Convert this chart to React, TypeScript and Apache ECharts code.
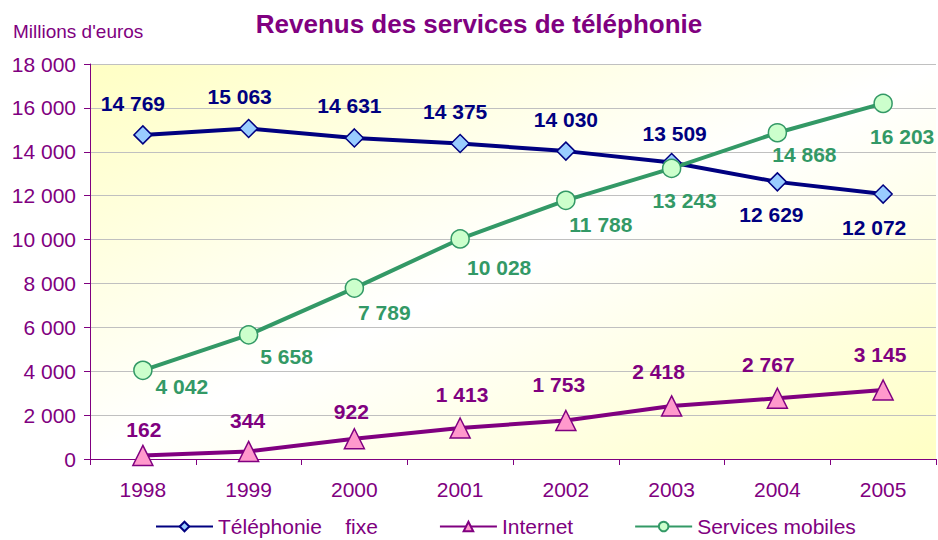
import React, { useEffect, useRef } from "react";
import * as echarts from "echarts";

const years = ["1998", "1999", "2000", "2001", "2002", "2003", "2004", "2005"];
const fixe = [14769, 15063, 14631, 14375, 14030, 13509, 12629, 12072];
const internet = [162, 344, 922, 1413, 1753, 2418, 2767, 3145];
const mobiles = [4042, 5658, 7789, 10028, 11788, 13243, 14868, 16203];
const seriesNames = ["Téléphonie\u00a0\u00a0\u00a0\u00a0fixe", "Internet", "Services mobiles"];
const titleText = "Revenus des services de téléphonie";
const unitText = "Millions d'euros";

// label offsets (px) relative to each marker
const fixeLabelOffsets = [[-10, -31], [-9, -32], [-5, -32], [-5, -32], [0, -32], [3, -29], [-6, 33], [-9, 33]];
const internetLabelOffsets = [[1, -26], [-1, -31], [-3, -27], [2, -33], [-7, -36], [-13, -34], [-9, -34], [-3, -35]];
const mobilesLabelOffsets = [[39, 16], [38, 22], [30, 24], [39, 29], [35, 24], [13, 32], [27, 22], [19, 33]];

const FONT = "'Liberation Sans', Arial, sans-serif";
const PURPLE = "#800080";
const NAVY = "#000080";
const GREEN = "#339966";

const fmt = (v: number) => String(v).replace(/\B(?=(\d{3})+(?!\d))/g, " ");

export default function App() {
  const ref = useRef<HTMLDivElement>(null);
  useEffect(() => {
    if (!ref.current) return;
    const chart = echarts.init(ref.current, undefined, { renderer: "svg" });
    const mk = (vals: number[], offs: number[][]) =>
      vals.map((v, i) => ({ value: v, label: { offset: offs[i] } }));
    const labelBase = (color: string) => ({
      show: true,
      position: "inside",
      formatter: (p: any) => fmt(p.value),
      color,
      fontFamily: FONT,
      fontWeight: "bold",
      fontSize: 21,
    });
    chart.setOption({
      animation: false,
      backgroundColor: "#ffffff",
      graphic: [
        {
          type: "text",
          x: 479,
          y: 24,
          style: {
            text: titleText,
            align: "center",
            verticalAlign: "middle",
            textAlign: "center",
            textVerticalAlign: "middle",
            fill: PURPLE,
            font: `bold 26px ${FONT}`,
          },
        },
        {
          type: "text",
          x: 13,
          y: 31,
          style: {
            text: unitText,
            align: "left",
            verticalAlign: "middle",
            textAlign: "left",
            textVerticalAlign: "middle",
            fill: PURPLE,
            font: `19px ${FONT}`,
          },
        },
      ],
      legend: {
        left: 155,
        top: 516,
        itemWidth: 57,
        itemHeight: 12,
        itemGap: 61,
        padding: 0,
        textStyle: { color: PURPLE, fontFamily: FONT, fontSize: 21 },
        data: seriesNames,
      },
      grid: {
        left: 90,
        right: 2,
        top: 64,
        bottom: 81,
        show: true,
        borderWidth: 0,
        outerBoundsMode: "none",
        backgroundColor: new echarts.graphic.LinearGradient(0, 0, 1, 1, [
          { offset: 0, color: "#FFFFC4" },
          { offset: 0.5, color: "#FFFFFF" },
          { offset: 1, color: "#FFFFC4" },
        ]),
      },
      xAxis: {
        type: "category",
        data: years,
        boundaryGap: true,
        axisLine: { lineStyle: { color: PURPLE, width: 1 } },
        axisTick: { show: true, length: 6, lineStyle: { color: PURPLE } },
        axisLabel: { color: PURPLE, fontFamily: FONT, fontSize: 21, margin: 20 },
      },
      yAxis: {
        type: "value",
        min: 0,
        max: 18000,
        interval: 2000,
        axisLine: { show: true, lineStyle: { color: PURPLE, width: 1 } },
        axisTick: { show: true, length: 6, lineStyle: { color: PURPLE } },
        axisLabel: {
          color: PURPLE,
          fontFamily: FONT,
          fontSize: 21,
          margin: 14,
          formatter: (v: number) => fmt(v),
        },
        splitLine: { show: true, lineStyle: { color: "#C0C0C0", width: 1 } },
      },
      series: [
        {
          name: seriesNames[0],
          type: "line",
          data: mk(fixe, fixeLabelOffsets),
          symbol: "diamond",
          symbolSize: 18,
          lineStyle: { color: NAVY, width: 4 },
          itemStyle: { color: "#99CCFF", borderColor: NAVY, borderWidth: 1.5 },
          label: labelBase(NAVY),
        },
        {
          name: seriesNames[1],
          type: "line",
          data: mk(internet, internetLabelOffsets),
          symbol: "triangle",
          symbolSize: 20,
          lineStyle: { color: PURPLE, width: 4 },
          itemStyle: { color: "#FF99CC", borderColor: PURPLE, borderWidth: 1.5 },
          label: labelBase(PURPLE),
        },
        {
          name: seriesNames[2],
          type: "line",
          data: mk(mobiles, mobilesLabelOffsets),
          symbol: "circle",
          symbolSize: 18,
          lineStyle: { color: GREEN, width: 4 },
          itemStyle: { color: "#CCFFCC", borderColor: GREEN, borderWidth: 1.5 },
          label: labelBase(GREEN),
        },
      ],
    });
    return () => chart.dispose();
  }, []);
  return (
    <div
      ref={ref}
      style={{ position: "fixed", left: 0, top: 0, width: 938, height: 540 }}
    />
  );
}
